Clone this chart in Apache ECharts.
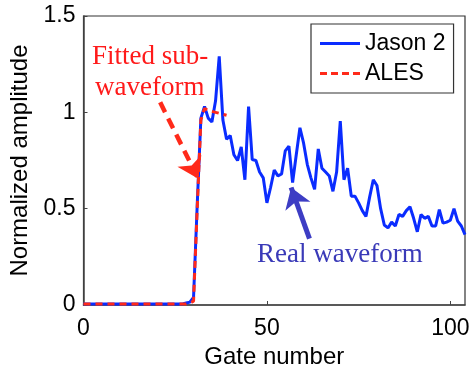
<!DOCTYPE html>
<html>
<head>
<meta charset="utf-8">
<script src="https://cdn.jsdelivr.net/npm/echarts@6/dist/echarts.min.js"></script>
<style>
html,body{margin:0;padding:0;background:#fff;}
#chart{width:469px;height:367px;}
</style>
</head>
<body>
<div id="chart"></div>
<script>
// Gate numbers 0..104
var jason2 = [
  0.005,0.005,0.005,0.005,0.005,0.005,0.005,0.005,0.005,0.005,
  0.005,0.005,0.005,0.005,0.005,0.005,0.005,0.005,0.005,0.005,
  0.005,0.005,0.005,0.005,0.005,0.005,0.005,0.005,
  0.01,0.015,0.04,0.52,0.97,1.03,0.97,0.95,1.06,1.29,0.96,0.86,
  0.88,0.78,0.75,0.82,0.65,1.03,0.755,0.75,0.69,0.66,
  0.53,0.61,0.70,0.67,0.68,0.80,0.825,0.635,0.78,0.92,
  0.84,0.73,0.66,0.60,0.81,0.71,0.69,0.67,0.59,0.69,
  0.955,0.65,0.71,0.565,0.565,0.53,0.49,0.46,0.56,0.65,
  0.62,0.50,0.415,0.40,0.43,0.41,0.47,0.46,0.49,0.51,
  0.45,0.38,0.47,0.45,0.46,0.41,0.41,0.495,0.425,0.43,
  0.44,0.50,0.435,0.41,0.365
];
var ales = [
  0.005,0.005,0.005,0.005,0.005,0.005,0.005,0.005,0.005,0.005,
  0.005,0.005,0.005,0.005,0.005,0.005,0.005,0.005,0.005,0.005,
  0.005,0.005,0.005,0.005,0.005,0.005,0.005,0.005,
  0.005,0.01,0.02,0.5,0.96,1.02,1.01,1.005,1.0,0.995,0.99,0.985
];
var xTicks = [0, 50, 100];
var yTicks = [0, 0.5, 1, 1.5];
var seriesNames = ['Jason 2', 'ALES'];
// annotation arrows in data coordinates [gate, amplitude]
var fittedArrow = [[20.9, 1.052], [31.3, 0.655]];
var realArrow = [[61.6, 0.345], [56.6, 0.61]];

function pairs(vals) {
  var out = [];
  for (var i = 0; i < vals.length; i++) out.push([i, vals[i]]);
  return out;
}

var chart = echarts.init(document.getElementById('chart'), null, {renderer: 'canvas'});
var sansFont = 'Liberation Sans, Arial, Helvetica, sans-serif';
var serifFont = 'Liberation Serif, Times New Roman, serif';
var blue = '#0a2cff', red = '#ff2a1a';

chart.setOption({
  animation: false,
  backgroundColor: '#ffffff',
  grid: {
    left: 83.5, right: 4, top: 16, bottom: 62,
    containLabel: false, outerBoundsMode: 'none',
    show: true, borderColor: '#333', borderWidth: 1.2, backgroundColor: 'transparent'
  },
  legend: {
    data: [
      {name: seriesNames[0], icon: 'path://M0,0H40V3H0Z', itemStyle: {color: blue}},
      {name: seriesNames[1], icon: 'path://M0,0H7V3H0Z M11,0H18V3H11Z M22,0H29V3H22Z M33,0H40V3H33Z', itemStyle: {color: red}}
    ],
    orient: 'vertical',
    left: 311, top: 24,
    width: 149,
    padding: [8, 8, 8, 9],
    itemGap: 7,
    itemWidth: 40, itemHeight: 3,
    borderColor: '#333', borderWidth: 1.2,
    backgroundColor: '#fff',
    textStyle: {fontFamily: sansFont, fontSize: 23, color: '#000', padding: [0, 0, 0, 0], lineHeight: 22}
  },
  xAxis: {
    type: 'value', min: 0, max: 104, interval: 50,
    name: 'Gate number', nameLocation: 'middle', nameGap: 34,
    nameTextStyle: {fontFamily: sansFont, fontSize: 24, color: '#000'},
    axisLine: {show: true, lineStyle: {color: '#444', width: 1.5}},
    axisTick: {show: true, inside: true, length: 4, lineStyle: {color: '#444'}},
    axisLabel: {fontFamily: sansFont, fontSize: 23, color: '#000', margin: 12, showMaxLabel: false,
      formatter: function (v) { return xTicks.indexOf(v) >= 0 ? String(v) : ''; }},
    splitLine: {show: false}
  },
  yAxis: {
    type: 'value', min: 0, max: 1.5, interval: 0.5,
    name: 'Normalized amplitude', nameLocation: 'middle', nameGap: 43,
    nameTextStyle: {fontFamily: sansFont, fontSize: 24, color: '#000'},
    axisLine: {show: true, lineStyle: {color: '#444', width: 1.5}},
    axisTick: {show: true, inside: true, length: 4, lineStyle: {color: '#444'}},
    axisLabel: {fontFamily: sansFont, fontSize: 23, color: '#000', margin: 8,
      formatter: function (v) { return yTicks.indexOf(v) >= 0 ? String(v) : ''; }},
    splitLine: {show: false}
  },
  series: [
    {
      name: 'Jason 2', type: 'line', data: pairs(jason2),
      symbol: 'none', showSymbol: false,
      lineStyle: {color: blue, width: 3},
      itemStyle: {color: blue},
      z: 2
    },
    {
      name: 'ALES', type: 'line', data: pairs(ales),
      symbol: 'none', showSymbol: false,
      lineStyle: {color: red, width: 3, type: [7, 5]},
      itemStyle: {color: red},
      z: 3
    },
    {
      name: 'annotations', type: 'line', data: [],
      silent: true,
      markLine: {
        silent: true,
        symbol: ['none', 'arrow'],
        symbolSize: 20,
        label: {show: false},
        data: [
          [
            {coord: fittedArrow[0], lineStyle: {color: red, width: 4.5, type: [11, 7]}, itemStyle: {color: red}},
            {coord: fittedArrow[1], itemStyle: {color: red}}
          ],
          [
            {coord: realArrow[0], lineStyle: {color: '#3d3dc4', width: 5, type: 'solid'}, itemStyle: {color: '#3d3dc4'}},
            {coord: realArrow[1], itemStyle: {color: '#3d3dc4'}}
          ]
        ]
      },
      z: 4
    }
  ],
  graphic: [
    {type: 'text', left: 92, top: 43, silent: true,
      style: {text: 'Fitted sub-', fontFamily: serifFont, fontSize: 27, fill: '#ff1a1a'}},
    {type: 'text', left: 95, top: 74, silent: true,
      style: {text: 'waveform', fontFamily: serifFont, fontSize: 27, fill: '#ff1a1a'}},
    {type: 'text', left: 257, top: 241, silent: true,
      style: {text: 'Real waveform', fontFamily: serifFont, fontSize: 27, fill: '#3a3ab8'}}
  ]
});
</script>
</body>
</html>
